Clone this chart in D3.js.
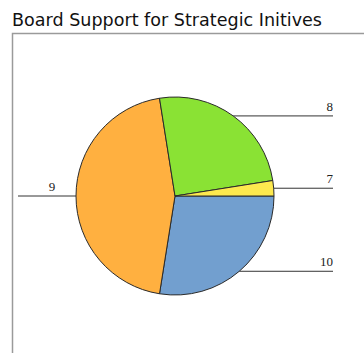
<!DOCTYPE html>
<html>
<head>
<meta charset="utf-8">
<script src="https://cdn.jsdelivr.net/npm/d3@7"></script>
<style>
  html, body { margin: 0; padding: 0; background: #fff; }
  svg { display: block; }
</style>
</head>
<body>
<svg id="chart" width="364" height="353"></svg>
<script>
// Board support responses by category
const categories = ["10", "9", "8", "7"];
const values = [11, 18, 10, 1];
const colors = ["#729fcf", "#ffb040", "#8ae234", "#fde94f"];
const title = "Board Support for Strategic Initives";

const svg = d3.select("#chart");

// Frame around the plot area
svg.append("rect")
  .attr("x", 12.5).attr("y", 33.5)
  .attr("width", 400).attr("height", 400)
  .attr("fill", "none")
  .attr("stroke", "#9a9a9a")
  .attr("stroke-width", 1.5);

// Title
svg.append("text")
  .attr("x", 12).attr("y", 26)
  .attr("font-family", "DejaVu Sans, sans-serif")
  .attr("font-size", 18)
  .attr("fill", "#111")
  .attr("textLength", 310)
  .attr("lengthAdjust", "spacingAndGlyphs")
  .text(title);

const cx = 175, cy = 196, r = 99;
const data = categories.map((c, i) => ({ cat: c, value: values[i], color: colors[i] }));

// Slices run clockwise from 3 o'clock
const pie = d3.pie().value(d => d.value).sort(null)
  .startAngle(Math.PI / 2).endAngle(Math.PI / 2 + 2 * Math.PI);
const arcs = pie(data);
const arc = d3.arc().innerRadius(0).outerRadius(r);

const g = svg.append("g").attr("transform", `translate(${cx},${cy})`);
g.selectAll("path.slice")
  .data(arcs)
  .join("path")
  .attr("class", "slice")
  .attr("d", arc)
  .attr("fill", d => d.data.color)
  .attr("stroke", "#2a2a2a")
  .attr("stroke-width", 1);

// Leader lines from the slice mid-angle on the rim out to the label
const rightEnd = 333 - cx, leftEnd = 18 - cx;
arcs.forEach(a => {
  const mid = (a.startAngle + a.endAngle) / 2;
  const px = Math.sin(mid) * r, py = -Math.cos(mid) * r;
  const right = px >= 0;
  const ex = right ? rightEnd : leftEnd;
  g.append("line")
    .attr("x1", px).attr("y1", py)
    .attr("x2", ex).attr("y2", py)
    .attr("stroke", "#333").attr("stroke-width", 1);
  g.append("text")
    .attr("x", right ? ex : (ex + px) / 2 + 5)
    .attr("y", py - 5)
    .attr("text-anchor", right ? "end" : "middle")
    .attr("font-family", "Liberation Serif, serif")
    .attr("font-size", 13)
    .attr("fill", "#222")
    .text(a.data.cat);
});
</script>
</body>
</html>
